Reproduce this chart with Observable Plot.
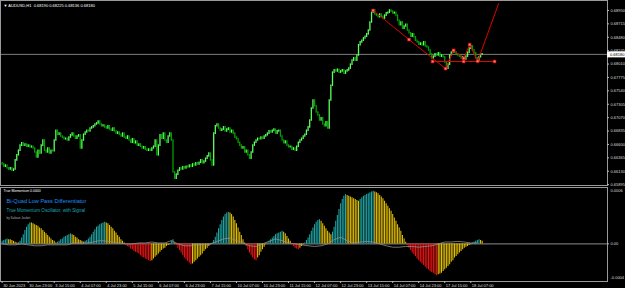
<!DOCTYPE html>
<html><head><meta charset="utf-8">
<script src="https://cdn.jsdelivr.net/npm/d3@7"></script>
<script src="https://cdn.jsdelivr.net/npm/@observablehq/plot@0.6"></script>
<style>
html,body{margin:0;padding:0;background:#000;}
#chart{width:625px;height:288px;background:#000;overflow:hidden;}
#chart svg{display:block;}
</style></head><body><div id="chart"></div>
<script>
// ---------- data ----------
const symbolInfo = "\u25BC AUDUSD,H1  0.68190 0.68225 0.68136 0.68180";
const firstOpen = 0.6627;
const closes = [
0.6625,0.6621,0.6623,0.6618,0.6616,0.6618,0.6614,0.6616,0.6632,0.6641,
0.6649,0.6658,0.6662,0.6658,0.6660,0.6656,0.6658,0.6655,0.6656,0.6653,
0.6646,0.6637,0.6649,0.6644,0.6658,0.6667,0.6649,0.6646,0.6653,0.6644,
0.6649,0.6648,0.6667,0.6684,0.6677,0.6679,0.6674,0.6672,0.6669,0.6670,
0.6667,0.6672,0.6676,0.6679,0.6674,0.6670,0.6674,0.6676,0.6653,0.6667,
0.6677,0.6681,0.6684,0.6683,0.6688,0.6690,0.6692,0.6695,0.6697,0.6700,
0.6695,0.6692,0.6693,0.6690,0.6688,0.6692,0.6686,0.6684,0.6688,0.6683,
0.6679,0.6681,0.6677,0.6674,0.6679,0.6672,0.6670,0.6674,0.6667,0.6663,
0.6669,0.6662,0.6665,0.6658,0.6660,0.6656,0.6653,0.6655,0.6651,0.6649,
0.6651,0.6649,0.6653,0.6656,0.6667,0.6641,0.6658,0.6676,0.6670,0.6679,
0.6667,0.6663,0.6674,0.6679,0.6667,0.6611,0.6600,0.6607,0.6614,0.6618,
0.6616,0.6620,0.6618,0.6621,0.6620,0.6623,0.6621,0.6625,0.6623,0.6627,
0.6625,0.6628,0.6632,0.6627,0.6630,0.6635,0.6639,0.6644,0.6632,0.6623,
0.6679,0.6692,0.6695,0.6688,0.6684,0.6686,0.6690,0.6683,0.6686,0.6688,
0.6681,0.6684,0.6679,0.6672,0.6669,0.6663,0.6658,0.6653,0.6655,0.6646,
0.6649,0.6641,0.6635,0.6646,0.6658,0.6663,0.6667,0.6670,0.6669,0.6672,
0.6670,0.6674,0.6676,0.6679,0.6683,0.6681,0.6684,0.6686,0.6679,0.6683,
0.6684,0.6674,0.6667,0.6662,0.6665,0.6658,0.6655,0.6656,0.6651,0.6653,
0.6649,0.6656,0.6663,0.6667,0.6670,0.6674,0.6677,0.6684,0.6690,0.6702,
0.6723,0.6737,0.6727,0.6716,0.6711,0.6702,0.6706,0.6695,0.6692,0.6699,
0.6688,0.6737,0.6763,0.6786,0.6790,0.6788,0.6791,0.6786,0.6788,0.6790,
0.6784,0.6788,0.6790,0.6793,0.6800,0.6807,0.6811,0.6807,0.6816,0.6834,
0.6839,0.6842,0.6846,0.6849,0.6853,0.6860,0.6874,0.6891,0.6895,0.6888,
0.6886,0.6883,0.6888,0.6884,0.6881,0.6886,0.6890,0.6891,0.6895,0.6893,
0.6890,0.6891,0.6886,0.6877,0.6869,0.6874,0.6863,0.6867,0.6870,0.6860,
0.6855,0.6849,0.6853,0.6848,0.6842,0.6839,0.6835,0.6837,0.6834,0.6839,
0.6832,0.6830,0.6825,0.6818,0.6811,0.6814,0.6818,0.6816,0.6820,0.6814,
0.6816,0.6813,0.6804,0.6793,0.6800,0.6816,0.6821,0.6825,0.6821,0.6818,
0.6816,0.6814,0.6811,0.6813,0.6809,0.6814,0.6821,0.6828,0.6832,0.6825,
0.6820,0.6811,0.6807,0.6813,0.6818,0.6818
];
const lastPrice = 0.6818;
const priceTicks = [0.6895,0.68715,0.6848,0.68245,0.6801,0.67775,0.6754,0.67305,0.6707,0.66835,0.666,0.66365,0.6613,0.65895];

// drawn objects (bar position, price)
const trendIdx = [228, 250, 272.5];
const trendPrice = [0.6895, 0.6844, 0.6793];
const levelIdx = [264.5, 283.6, 302.6];
const levelPrice = 0.68055;
const zigIdx = [272.5, 277.4, 283.6, 287.3, 292.2, 305.1];
const zigPrice = [0.6793, 0.6825, 0.6811, 0.6835, 0.6806, 0.6907];

// indicator
const momentum = [
2.7e-5,3.6e-5,4.5e-5,5.3e-5,4.5e-5,4.5e-5,3.6e-5,2.7e-5,1.8e-5,0.9e-5,
0.9e-5,2.7e-5,6.2e-5,9.8e-5,14.2e-5,17.8e-5,20.5e-5,22.3e-5,22.3e-5,21.4e-5,
20.5e-5,19.6e-5,18.7e-5,16.9e-5,16.0e-5,14.2e-5,12.5e-5,10.7e-5,8.9e-5,7.1e-5,
5.3e-5,3.6e-5,2.7e-5,0.9e-5,1.8e-5,2.7e-5,4.5e-5,5.3e-5,7.1e-5,8.0e-5,
8.9e-5,9.8e-5,10.7e-5,9.8e-5,8.9e-5,7.1e-5,6.2e-5,4.5e-5,3.6e-5,2.7e-5,
1.8e-5,2.7e-5,3.6e-5,5.3e-5,7.1e-5,9.8e-5,12.5e-5,15.1e-5,17.8e-5,18.7e-5,
20.5e-5,21.4e-5,22.3e-5,23.1e-5,22.3e-5,21.4e-5,19.6e-5,17.8e-5,16.0e-5,13.4e-5,
11.6e-5,8.9e-5,7.1e-5,4.5e-5,2.7e-5,0.9e-5,-0.9e-5,-2.7e-5,-3.6e-5,-5.3e-5,
-6.2e-5,-8.0e-5,-8.9e-5,-9.8e-5,-10.7e-5,-12.5e-5,-14.2e-5,-15.1e-5,-16.0e-5,-16.9e-5,
-17.8e-5,-18.7e-5,-17.8e-5,-16.0e-5,-14.2e-5,-12.5e-5,-10.7e-5,-8.9e-5,-7.1e-5,-5.3e-5,
-4.5e-5,-2.7e-5,-1.8e-5,-0.9e-5,2.7e-5,4.5e-5,0.9e-5,-1.8e-5,-4.5e-5,-7.1e-5,
-9.8e-5,-12.5e-5,-15.1e-5,-16.9e-5,-18.7e-5,-20.5e-5,-22.3e-5,-21.4e-5,-19.6e-5,-17.8e-5,
-16.0e-5,-14.2e-5,-12.5e-5,-10.7e-5,-8.0e-5,-6.2e-5,-4.5e-5,-2.7e-5,-0.9e-5,0.9e-5,
3.6e-5,7.1e-5,11.6e-5,16.0e-5,20.5e-5,24.9e-5,28.5e-5,31.2e-5,32.9e-5,33.8e-5,
32.9e-5,31.2e-5,28.5e-5,24.9e-5,21.4e-5,16.9e-5,12.5e-5,8.9e-5,4.5e-5,0.9e-5,
-2.7e-5,-6.2e-5,-9.8e-5,-12.5e-5,-15.1e-5,-16.9e-5,-17.8e-5,-15.1e-5,-12.5e-5,-8.9e-5,
-6.2e-5,-3.6e-5,-0.9e-5,0.9e-5,2.7e-5,4.5e-5,6.2e-5,8.0e-5,9.8e-5,10.7e-5,
11.6e-5,12.5e-5,13.4e-5,12.5e-5,10.7e-5,8.0e-5,5.3e-5,2.7e-5,-0.9e-5,-2.7e-5,
-4.5e-5,-5.3e-5,-6.2e-5,-4.5e-5,-2.7e-5,-0.9e-5,0.9e-5,3.6e-5,6.2e-5,9.8e-5,
13.4e-5,16.9e-5,20.5e-5,23.1e-5,24.9e-5,25.8e-5,24.0e-5,21.4e-5,18.7e-5,16.0e-5,
13.4e-5,11.6e-5,9.8e-5,12.5e-5,17.8e-5,24.0e-5,30.3e-5,36.5e-5,42.7e-5,47.2e-5,
50.7e-5,52.5e-5,51.6e-5,50.7e-5,49.8e-5,49.0e-5,48.1e-5,47.2e-5,46.3e-5,45.4e-5,
47.2e-5,49.0e-5,50.7e-5,51.6e-5,52.5e-5,53.4e-5,54.3e-5,55.2e-5,56.1e-5,55.2e-5,
54.3e-5,53.4e-5,51.6e-5,49.8e-5,48.1e-5,45.4e-5,42.7e-5,40.1e-5,37.4e-5,34.7e-5,
31.2e-5,27.6e-5,24.0e-5,20.5e-5,16.9e-5,13.4e-5,8.9e-5,5.3e-5,1.8e-5,-1.8e-5,
-4.5e-5,-7.1e-5,-9.8e-5,-11.6e-5,-13.4e-5,-16.0e-5,-17.8e-5,-19.6e-5,-21.4e-5,-23.1e-5,
-24.9e-5,-26.7e-5,-27.6e-5,-29.4e-5,-30.3e-5,-31.2e-5,-32.9e-5,-33.8e-5,-32.9e-5,-32.0e-5,
-31.2e-5,-29.4e-5,-27.6e-5,-25.8e-5,-24.0e-5,-22.3e-5,-19.6e-5,-17.8e-5,-15.1e-5,-13.4e-5,
-11.6e-5,-9.8e-5,-8.0e-5,-6.2e-5,-4.5e-5,-3.6e-5,-2.7e-5,-1.8e-5,-0.9e-5,0.9e-5,
1.8e-5,2.7e-5,3.6e-5,4.5e-5,3.6e-5,2.7e-5
];
const signalStep = 4;
const signal = [
0,-1e-5,-1e-5,0,-1e-5,-2e-5,-2e-5,-1e-5,-1e-5,-1e-5,
-1e-5,1e-5,1e-5,1e-5,2e-5,3.5e-5,3e-5,2e-5,1e-5,0,
0,1e-5,1e-5,2e-5,1e-5,1e-5,3.5e-5,0,-2e-5,-2e-5,
-1e-5,-1e-5,0,2.5e-5,5.3e-5,6.2e-5,3.5e-5,1e-5,-2e-5,-2.7e-5,
0,2.7e-5,5.3e-5,3.5e-5,1e-5,0,-1e-5,-2e-5,-2.7e-5,-2e-5,
0,4.5e-5,7.1e-5,3.5e-5,1e-5,2e-5,2.7e-5,2e-5,0,-2e-5,
-3.5e-5,-3.5e-5,-2.7e-5,-2.7e-5,-3.5e-5,-2.7e-5,-2e-5,0,2e-5,2e-5,
2.7e-5,2e-5,1e-5,1e-5
];
const momTicks = [0.0006, 0, -0.0004];
const momTickLabels = ["0.0006", "0.00", "-0.0004"];
const indicatorName = "True Momentum 0.0000";
const titleLines = ["Bi-Quad Low Pass Differentiator", "True Momentum Oscillator, with Signal", "by Safwan Joubet"];
const labelStep = 16;
const timeLabels = ["30 Jun 2023","30 Jun 23:00","3 Jul 15:00","4 Jul 07:00","4 Jul 23:00","5 Jul 15:00","6 Jul 07:00","6 Jul 23:00","7 Jul 15:00","10 Jul 07:00","10 Jul 23:00","11 Jul 15:00","12 Jul 07:00","12 Jul 23:00","13 Jul 15:00","14 Jul 07:00","14 Jul 23:00","17 Jul 15:00","18 Jul 07:00"];

// ---------- build ----------
const FONT = "'Liberation Sans', Arial, sans-serif";
const xDomain = [-1, 372];
const bars = closes.map((c, i) => ({i, open: i ? closes[i - 1] : firstOpen, close: c}));
const trend = trendIdx.map((x, k) => ({x, y: trendPrice[k]}));
const level = [levelIdx[0], levelIdx[levelIdx.length - 1]].map(x => ({x, y: levelPrice}));
const zig = zigIdx.map((x, k) => ({x, y: zigPrice[k]}));
const markers = [...trend, ...levelIdx.map(x => ({x, y: levelPrice})), ...zig.slice(1, -1)];

const main = Plot.plot({
  width: 625, height: 186,
  marginTop: 0, marginBottom: 1, marginLeft: 0, marginRight: 18,
  x: {domain: xDomain, axis: null},
  y: {domain: [0.6588, 0.69125], axis: null},
  color: {type: "identity"},
  style: {background: "#000", color: "#fff", fontFamily: FONT, fontSize: "4px", overflow: "visible"},
  marks: [
    Plot.ruleY([lastPrice], {stroke: "#7d7d7d", strokeWidth: 1}),
    Plot.ruleX(bars, {x: "i", y1: d => Math.max(d.open, d.close), y2: d => Math.min(d.open, d.close),
      stroke: d => d.close >= d.open ? "#5cff5c" : "#00a000", strokeWidth: 1.3, insetTop: -0.8, insetBottom: -0.8}),
    Plot.line(trend, {x: "x", y: "y", stroke: "#e00000", strokeWidth: 1}),
    Plot.line(level, {x: "x", y: "y", stroke: "#e00000", strokeWidth: 1}),
    Plot.line(zig, {x: "x", y: "y", stroke: "#e00000", strokeWidth: 1}),
    Plot.dot(markers, {x: "x", y: "y", symbol: "square", r: 1.6, fill: "#ff7a7a", stroke: "#d00000", strokeWidth: 0.7}),
    Plot.frame({stroke: "#9a9a9a"}),
    Plot.ruleY(priceTicks, {x1: xDomain[1], x2: xDomain[1], insetRight: -2, stroke: "#bbb"}),
    Plot.text(priceTicks, {y: d => d, frameAnchor: "right", dx: 3, textAnchor: "start", lineAnchor: "middle",
      text: d => d.toFixed(5), fill: "#ddd", fontSize: 4}),
    Plot.ruleY([lastPrice], {x1: xDomain[1], x2: xDomain[1], insetRight: -18, stroke: "#fff", strokeWidth: 6}),
    Plot.text([lastPrice], {y: d => d, frameAnchor: "right", dx: 2.5, textAnchor: "start", lineAnchor: "middle",
      text: d => d.toFixed(5), fill: "#000", fontSize: 4}),
    Plot.text([symbolInfo], {frameAnchor: "top-left", dx: 3, dy: 5, text: d => d, textAnchor: "start", lineAnchor: "middle", fill: "#fff", fontSize: 4})
  ]
});

const momData = momentum.map((v, i) => {
  const prev = i ? momentum[i - 1] : 0;
  const c = v >= 0 ? (v > prev ? "#20a8a8" : "#e6c200") : (v < prev ? "#f01414" : "#e6c200");
  return {i, v, c};
});
const sigData = signal.map((v, k) => ({i: k * signalStep, v}));
const tickIdx = timeLabels.map((d, k) => k * labelStep);

const sub = Plot.plot({
  width: 625, height: 102,
  marginTop: 1, marginBottom: 7, marginLeft: 0, marginRight: 18,
  x: {domain: xDomain, axis: null},
  y: {domain: [-0.0004, 0.0006], axis: null},
  color: {type: "identity"},
  style: {background: "#000", color: "#fff", fontFamily: FONT, fontSize: "4px", overflow: "visible"},
  marks: [
    Plot.ruleY([0], {stroke: "#8c8c8c", strokeWidth: 1}),
    Plot.ruleX(momData, {x: "i", y1: 0, y2: "v", stroke: "c", strokeWidth: 1.05}),
    Plot.line(sigData, {x: "i", y: "v", stroke: "#8f8f8f", strokeWidth: 0.8}),
    Plot.frame({stroke: "#9a9a9a"}),
    Plot.text([momTicks[0]], {y: d => d, frameAnchor: "right", dx: 3, dy: 3, textAnchor: "start", lineAnchor: "middle", text: () => momTickLabels[0], fill: "#ddd", fontSize: 4}),
    Plot.text([momTicks[1]], {y: d => d, frameAnchor: "right", dx: 3, textAnchor: "start", lineAnchor: "middle", text: () => momTickLabels[1], fill: "#ddd", fontSize: 4}),
    Plot.text([momTicks[2]], {y: d => d, frameAnchor: "right", dx: 3, dy: -4, textAnchor: "start", lineAnchor: "middle", text: () => momTickLabels[2], fill: "#ddd", fontSize: 4}),
    Plot.ruleY([0], {x1: xDomain[1], x2: xDomain[1], insetRight: -2, stroke: "#bbb"}),
    Plot.ruleX(tickIdx, {x: d => d, y1: -0.0004, y2: -0.0004, insetBottom: -2, stroke: "#bbb"}),
    Plot.text(timeLabels, {x: (d, k) => tickIdx[k], frameAnchor: "bottom", dx: 1, dy: 3.8, textAnchor: "start", lineAnchor: "middle", text: d => d, fill: "#ddd", fontSize: 4}),
    Plot.text([indicatorName], {frameAnchor: "top-left", dx: 3, dy: 3, text: d => d, textAnchor: "start", lineAnchor: "middle", fill: "#fff", fontSize: 3.5}),
    Plot.text([titleLines[0]], {frameAnchor: "top-left", dx: 6, dy: 14, text: d => d, textAnchor: "start", lineAnchor: "middle", fill: "#1e8ff0", fontSize: 5.6}),
    Plot.text([titleLines[1]], {frameAnchor: "top-left", dx: 6, dy: 23, text: d => d, textAnchor: "start", lineAnchor: "middle", fill: "#19a6b4", fontSize: 4.6}),
    Plot.text([titleLines[2]], {frameAnchor: "top-left", dx: 6, dy: 31, text: d => d, textAnchor: "start", lineAnchor: "middle", fill: "#aaa", fontSize: 3})
  ]
});

const host = document.getElementById("chart");
host.appendChild(main);
host.appendChild(sub);
</script>
</body></html>
